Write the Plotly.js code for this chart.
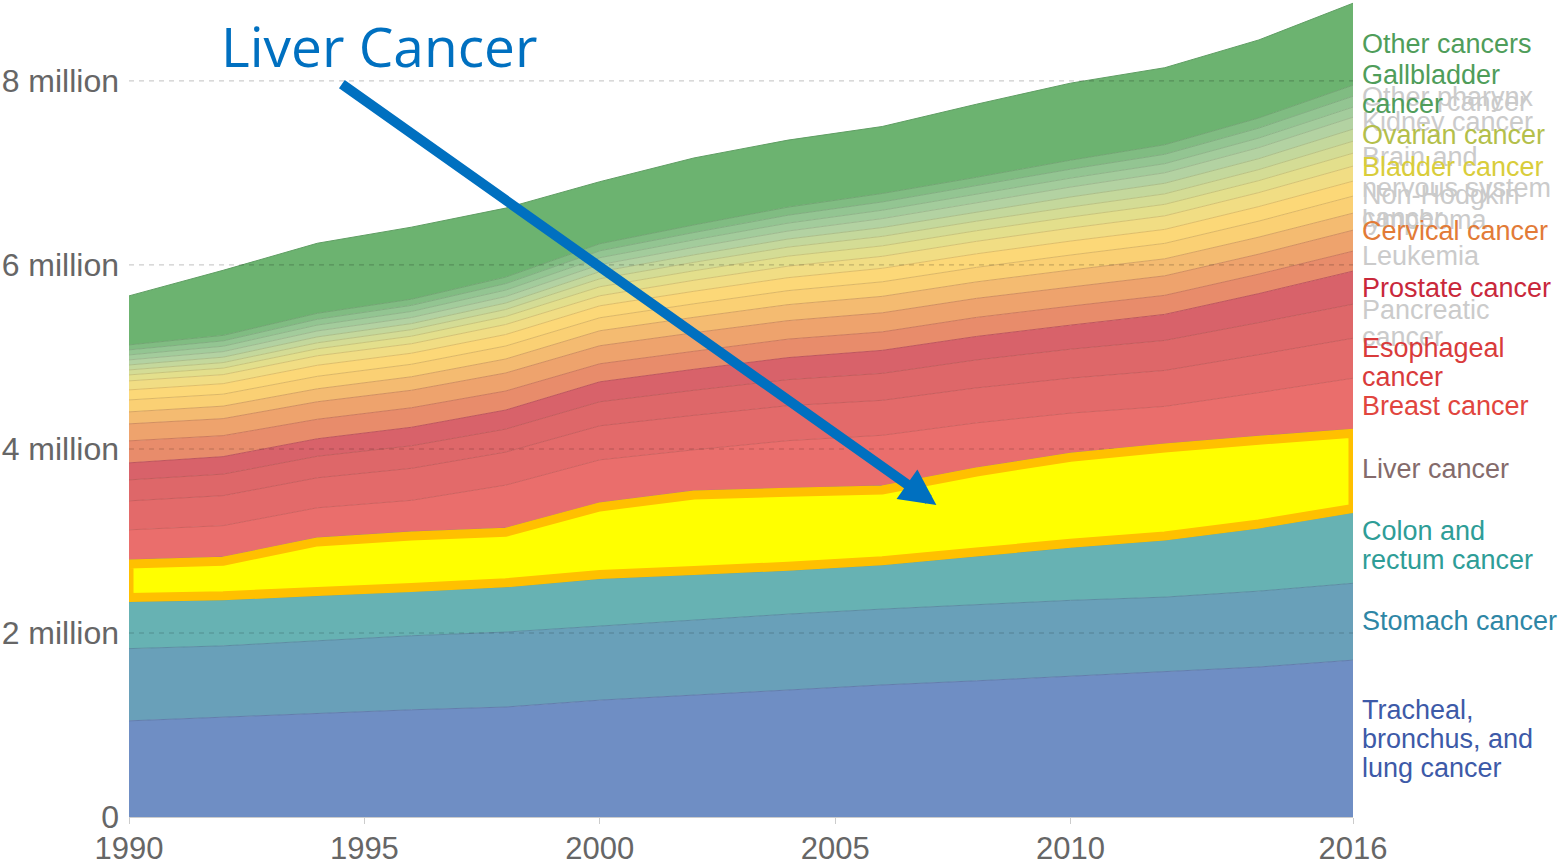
<!DOCTYPE html>
<html>
<head>
<meta charset="utf-8">
<script src="https://cdn.plot.ly/plotly-3.0.1.min.js"></script>
<style>
html,body{margin:0;padding:0;background:#fff;}
#chart{width:1559px;height:865px;}
</style>
</head>
<body>
<div id="chart"></div>
<script>
// ---------------- DATA (deaths, thousands) ----------------
const years = [1990,1992,1994,1996,1998,2000,2002,2004,2006,2008,2010,2012,2014,2016];

const lung        = [1045,1085,1130,1165,1195,1270,1325,1380,1435,1480,1530,1575,1630,1705];
const stomach     = [785,775,785,805,815,805,815,825,825,825,825,815,825,835];
const colon       = [510,500,490,480,490,515,495,475,480,530,575,620,685,770];
const liver       = [455,465,630,650,640,825,910,895,860,960,1025,1045,1000,905];
const breast      = [326,342,326,342,467,467,446,516,549,489,435,408,473,554];
const esophageal  = [315,326,326,348,359,370,375,380,380,380,380,391,413,435];
const pancreatic  = [228,234,234,245,250,261,272,283,293,304,315,326,348,370];
const prostate    = [185,190,190,201,207,217,228,239,250,255,261,283,315,359];
const leukemia    = [239,228,212,212,207,196,196,201,201,207,207,207,212,217];
const cervical    = [185,185,190,190,196,196,201,201,207,207,207,212,217,228];
const uterine     = [130,136,141,147,152,163,168,174,179,179,185,185,185,185];
const nhl         = [130,130,136,136,141,141,147,152,158,158,163,168,174,185];
const brain       = [109,114,120,120,125,130,136,141,147,147,152,152,158,163];
const lipOral     = [98,98,103,103,109,109,120,125,130,136,141,147,152,163];
const bladder     = [65,71,76,82,87,98,103,109,114,115,120,125,130,141];
const myeloma     = [54,60,65,71,76,87,92,98,103,104,109,114,120,130];
const ovarian     = [54,59,64,66,70,77,81,88,96,99,109,115,119,131];
const kidney      = [55,60,65,66,71,76,82,87,97,98,108,114,120,130];
const larynx      = [54,59,64,66,70,76,81,86,91,93,97,99,104,110];
const pharynx     = [55,58,63,66,70,75,80,86,90,93,97,102,108,118];
const gallbladder = [54,60,65,67,71,77,82,88,92,94,98,104,110,120];
const otherCancer = [533,707,761,783,750,674,728,728,728,794,837,837,848,891];

const seriesNames = [
  "Tracheal, bronchus, and lung cancer","Stomach cancer","Colon and rectum cancer","Liver cancer",
  "Breast cancer","Esophageal cancer","Pancreatic cancer","Prostate cancer","Leukemia",
  "Cervical cancer","Uterine cancer","Non-Hodgkin lymphoma","Brain and nervous system cancer",
  "Lip and oral cavity cancer","Bladder cancer","Multiple myeloma","Ovarian cancer","Kidney cancer",
  "Larynx cancer","Other pharynx cancer","Gallbladder cancer","Other cancers"
];
const seriesValues = [lung,stomach,colon,liver,breast,esophageal,pancreatic,prostate,leukemia,
  cervical,uterine,nhl,brain,lipOral,bladder,myeloma,ovarian,kidney,larynx,pharynx,gallbladder,otherCancer];

const yTickVals = [0,2e6,4e6,6e6,8e6];
const yTickText = ["0","2 million","4 million","6 million","8 million"];
const xTickVals = [1990,1995,2000,2005,2010,2016];

// ---------------- STYLE ----------------
const fillColors = [
  "#6f8ec4","#69a0b9","#67b2b3","#a98d96",
  "#ea6e6c","#e36a6a","#de6769","#d8626a","#e88c6b",
  "#eea36d","#f4bb71","#fad074","#fcd878",
  "#f1dd84","#e3df8c","#d4dc95","#c4d89c","#b3d2a2",
  "#a3cc9c","#93c592","#80bc82","#6cb370"
];
function darker(hex, f){
  const n = parseInt(hex.slice(1),16);
  const r = Math.round(((n>>16)&255)*f), g = Math.round(((n>>8)&255)*f), b = Math.round((n&255)*f);
  return "rgb("+r+","+g+","+b+")";
}

const traces = seriesNames.map((name,i)=>({
  type:"scatter", mode:"lines", name:name,
  x: years, y: seriesValues[i].map(v=>v*1000),
  stackgroup:"one", fill:"tonexty",
  fillcolor: fillColors[i],
  line:{color: darker(fillColors[i],0.88), width:1, shape:"linear"},
  hoverinfo:"skip"
}));

// cumulative sums for highlight
const cum = [];
let run = years.map(()=>0);
seriesValues.forEach(arr=>{ run = run.map((v,j)=>v+arr[j]*1000); cum.push(run.slice()); });
const colonTop = cum[2], liverTop = cum[3];
const inset = 45000;
let path = "M " + years.map((yr,j)=> yr + "," + (liverTop[j]-inset)).join(" L ");
path += " L " + years.slice().reverse().map((yr,k)=>{const j=years.length-1-k; return yr + "," + (colonTop[j]+inset);}).join(" L ") + " Z";

const shapes = [];
yTickVals.filter(v=>v>0).forEach(v=>{
  shapes.push({type:"line", xref:"paper", x0:0, x1:1, yref:"y", y0:v, y1:v,
    line:{color:"rgba(0,0,0,0.2)", width:1.2, dash:"5px,5px"}, layer:"above"});
});
shapes.push({type:"path", xref:"x", yref:"y", path:path, fillcolor:"#ffff00",
  line:{color:"#ffc000", width:9}, layer:"above"});

// right-side labels
const labelFont = "Liberation Sans, Arial, Helvetica, sans-serif";
const faded = "#cbcbcb";
const labels = [
  // faded (drawn first)
  ["Other pharynx",7.826e6,faded,0],["cancer",7.772e6,faded,85],
  ["Kidney cancer",7.554e6,faded,0],
  ["Brain and",7.174e6,faded,0],["nervous system",6.837e6,faded,0],["cancer",6.511e6,faded,0],
  ["Non-Hodgkin",6.761e6,faded,0],["lymphoma",6.489e6,faded,0],
  ["Leukemia",6.098e6,faded,0],
  ["Pancreatic",5.511e6,faded,0],["cancer",5.217e6,faded,0],
  // coloured
  ["Other cancers",8.402e6,"#4f9d5a",0],
  ["Gallbladder",8.065e6,"#4f9d5a",0],["cancer",7.750e6,"#4f9d5a",0],
  ["Ovarian cancer",7.413e6,"#b4bf4a",0],
  ["Bladder cancer",7.065e6,"#d9cd3b",0],
  ["Cervical cancer",6.370e6,"#e27b37",0],
  ["Prostate cancer",5.750e6,"#c9283b",0],
  ["Esophageal",5.098e6,"#d93b3b",0],["cancer",4.783e6,"#d93b3b",0],
  ["Breast cancer",4.467e6,"#e1453e",0],
  ["Liver cancer",3.783e6,"#846b6b",0],
  ["Colon and",3.109e6,"#2e9d97",0],["rectum cancer",2.793e6,"#2e9d97",0],
  ["Stomach cancer",2.130e6,"#2e86a5",0],
  ["Tracheal,",1.163e6,"#3d5aa8",0],["bronchus, and",0.848e6,"#3d5aa8",0],["lung cancer",0.533e6,"#3d5aa8",0]
];
const annotations = labels.map(l=>({
  xref:"x", x:2016, yref:"y", y:l[1], xanchor:"left", yanchor:"middle",
  xshift: 7 + l[3], text:l[0], showarrow:false,
  font:{family:labelFont, size:27, color:l[2]}
}));

// overlay annotation: title text + arrow
annotations.push({
  xref:"paper", yref:"paper", x:0.2045, y:0.944, xanchor:"center", yanchor:"middle",
  text:"Liver Cancer", showarrow:false,
  font:{family:"Open Sans, Lato, sans-serif", size:55, color:"#0070c0"}
});
annotations.push({
  xref:"x", yref:"y", x:2007.15, y:3.39e6, text:"", showarrow:true,
  ax:-596, ay:-422, arrowhead:2, arrowsize:0.72, arrowwidth:10, arrowcolor:"#0070c0"
});

const layout = {
  width:1559, height:865,
  margin:{l:129, r:206, t:0, b:48, pad:0},
  paper_bgcolor:"#fff", plot_bgcolor:"#fff",
  showlegend:false,
  xaxis:{range:[1990,2016], tickvals:xTickVals, ticktext:xTickVals.map(String),
    ticks:"outside", ticklen:6, tickcolor:"#cccccc", showline:true, linecolor:"#cccccc", linewidth:1,
    showgrid:false, zeroline:false, fixedrange:true, ticklabelstandoff:-2,
    tickfont:{family:labelFont, size:31, color:"#666"}},
  yaxis:{range:[0,8.88e6], tickvals:yTickVals, ticktext:yTickText, ticks:"",
    showline:false, showgrid:false, zeroline:false, fixedrange:true, ticklabelstandoff:9,
    tickfont:{family:labelFont, size:32, color:"#666"}},
  shapes:shapes,
  annotations:annotations,
  hovermode:false
};

Plotly.newPlot("chart", traces, layout, {staticPlot:true, displayModeBar:false});
</script>
</body>
</html>
